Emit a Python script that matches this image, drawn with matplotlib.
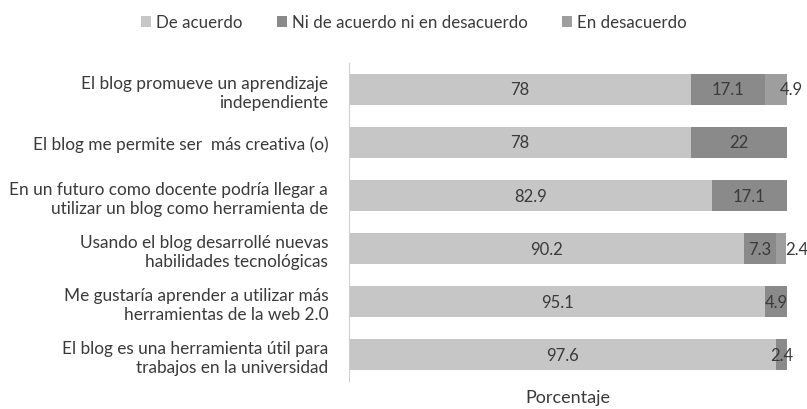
import matplotlib.pyplot as plt
import numpy as np

plt.rcParams['font.family'] = ['Lato', 'DejaVu Sans']

labels = [
    "El blog promueve un aprendizaje\nindependiente",
    "El blog me permite ser  más creativa (o)",
    "En un futuro como docente podría llegar a\nutilizar un blog como herramienta de",
    "Usando el blog desarrollé nuevas\nhabilidades tecnológicas",
    "Me gustaría aprender a utilizar más\nherramientas de la web 2.0",
    "El blog es una herramienta útil para\ntrabajos en la universidad",
]
de_acuerdo = [78, 78, 82.9, 90.2, 95.1, 97.6]
ni_ni = [17.1, 22, 17.1, 7.3, 4.9, 2.4]
desacuerdo = [4.9, 0, 0, 2.4, 0, 0]

series = ["De acuerdo", "Ni de acuerdo ni en desacuerdo", "En desacuerdo"]
colors = ["#c6c6c6", "#8a8a8a", "#9e9e9e"]
txt = "#3a3a3a"

fig = plt.figure(figsize=(8.07, 4.10), dpi=100)
ax = fig.add_axes([0.4325, 0.068, 0.5425, 0.776])

y = np.arange(len(labels))
left = np.zeros(len(labels))
for i, (name, vals, c) in enumerate(zip(series, [de_acuerdo, ni_ni, desacuerdo], colors)):
    vals = np.array(vals)
    bars = ax.barh(y, vals, left=left, height=0.57, color=c, label=name)
    # the "En desacuerdo" labels sit a bit to the right, past the bar end
    dx = 11 if i == 2 else 0
    for b, v in zip(bars, vals):
        if v > 0:
            ax.annotate(f"{v:g}", (b.get_x() + b.get_width() / 2, b.get_y() + b.get_height() / 2),
                        xytext=(dx, 0), textcoords="offset points",
                        ha="center", va="center", fontsize=12, color=txt)
    left += vals

ax.set_xlim(0, 100)
ax.set_ylim(len(labels) - 0.5, -0.5)
ax.set_yticks(y)
ax.set_yticklabels(labels, fontsize=12.4, color=txt)
ax.tick_params(axis="y", length=0, pad=15)
ax.set_xticks([])
ax.set_xlabel("Porcentaje", fontsize=13, color=txt, labelpad=6)
for s in ["top", "right", "bottom"]:
    ax.spines[s].set_visible(False)
ax.spines["left"].set_color("#d0d0d0")

fig.legend(loc="upper center", bbox_to_anchor=(0.513, 1.0), ncol=3, frameon=False,
           fontsize=12.2, handlelength=0.6, handleheight=0.6, handletextpad=0.3,
           columnspacing=2.0, labelcolor=txt)

fig.savefig("out.png", dpi=100)
